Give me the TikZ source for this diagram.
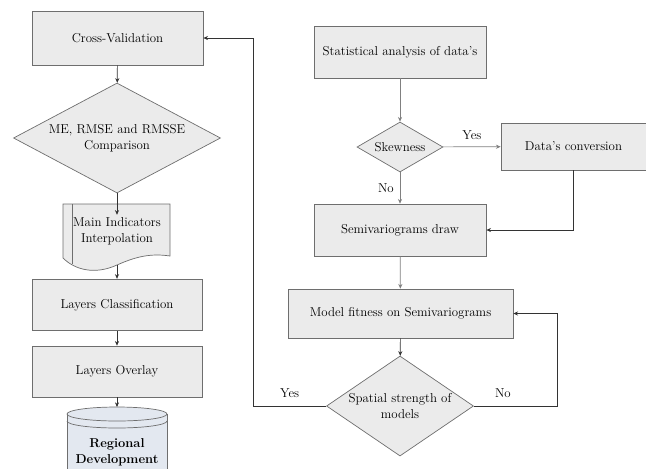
\documentclass[tikz,border=0pt]{standalone}
\usetikzlibrary{shapes.geometric,arrows.meta}
\definecolor{boxfill}{HTML}{EBEBEB}
\definecolor{boxline}{HTML}{6E6E6E}
\definecolor{dbfill}{HTML}{E3E8F0}
\begin{document}
\begin{tikzpicture}[x=0.03cm,y=-0.03cm]
\tikzstyle{every node}=[font=\fontsize{11}{13.5}\selectfont, inner sep=2pt];
\tikzstyle{proc}=[draw=boxline, fill=boxfill, shape=rectangle, line width=0.6pt];
\tikzstyle{decision}=[draw=boxline, fill=boxfill, shape=diamond, inner sep=0pt, align=center, line width=0.6pt];
\tikzstyle{flow}=[draw=black!80, line width=0.6pt, -{Stealth[length=4pt,width=3.5pt]}];
\tikzstyle{grayflow}=[flow, draw=black!50];

\useasboundingbox (0,0) rectangle (646,468);

% left column
\draw (117.5,38) node[proc, minimum width=5.13cm, minimum height=1.62cm] (cv) {Cross-Validation};
\draw (117,138) node[decision, aspect=2, minimum width=6.21cm, minimum height=3.3cm] (cmp) {ME, RMSE and RMSSE\\Comparison};

\draw[proc] (63,204) -- (170,204) -- (170,256)
  .. controls (150,253) and (135,257) .. (117,265)
  .. controls (95,275) and (75,270) .. (63,258) -- cycle;
\draw[boxline, line width=0.6pt] (72,204) -- (72,264);
\draw (117,231) node[align=center] (interp) {Main Indicators\\Interpolation};
\coordinate (interpb) at (117,265);

\draw (117,305) node[proc, minimum width=5.1cm, minimum height=1.55cm] (lc) {Layers Classification};
\draw (117,371.5) node[proc, minimum width=5.1cm, minimum height=1.53cm] (lo) {Layers Overlay};

\fill[dbfill] (67,414) rectangle (167,476);
\draw[boxline, line width=0.6pt] (67,414) -- (67,476) (167,414) -- (167,476);
\draw[boxline, fill=dbfill, line width=0.6pt] (117,414) ellipse [x radius=50, y radius=7];
\draw[boxline, line width=0.6pt] (67,421) arc[start angle=180, end angle=0, x radius=50, y radius=7];
\draw (117,452) node[align=center, font=\fontsize{11}{13.5}\selectfont\bfseries] (reg) {Regional\\Development};
\coordinate (regt) at (117,407);

% right column
\draw (400,52) node[proc, minimum width=5.16cm, minimum height=1.56cm] (sa) {Statistical analysis of data's};
\draw (400,147) node[decision, aspect=2, minimum width=2.58cm, minimum height=1.5cm] (skw) {Skewness};
\draw (573.5,146.5) node[proc, minimum width=4.35cm, minimum height=1.41cm] (conv) {Data's conversion};
\draw (400,230) node[proc, minimum width=5.16cm, minimum height=1.56cm] (semi) {Semivariograms draw};
\draw (400.5,313.5) node[proc, minimum width=6.75cm, minimum height=1.47cm] (fit) {Model fitness on Semivariograms};
\draw (400,406) node[decision, aspect=1.47, inner sep=-3pt, minimum width=4.41cm, minimum height=3cm] (spat) {Spatial strength of\\models};

% connectors
\draw[flow] (cv) -- (cmp);
\draw[flow] (cmp) -- (interp.north);
\draw[flow] (interpb) -- (lc);
\draw[flow] (lc) -- (lo);
\draw[flow] (lo) -- (regt);

\draw[grayflow] (sa) -- (skw);
\draw[grayflow] (skw) -- node[above=4pt, black] {Yes} (conv);
\draw[grayflow] (skw) -- node[left=3pt, black] {No} (semi);
\draw[flow] (conv.south) |- (semi.east);
\draw[grayflow] (semi) -- (fit);
\draw[flow] (fit) -- (spat);
\draw[flow] (spat.east) -- node[above=5pt, pos=0.35] {No} ++(83,0) |- (fit.east);
\draw[flow] (spat.west) -- node[above=5pt] {Yes} ++(-73,0) |- (cv.east);

\end{tikzpicture}
\end{document}
